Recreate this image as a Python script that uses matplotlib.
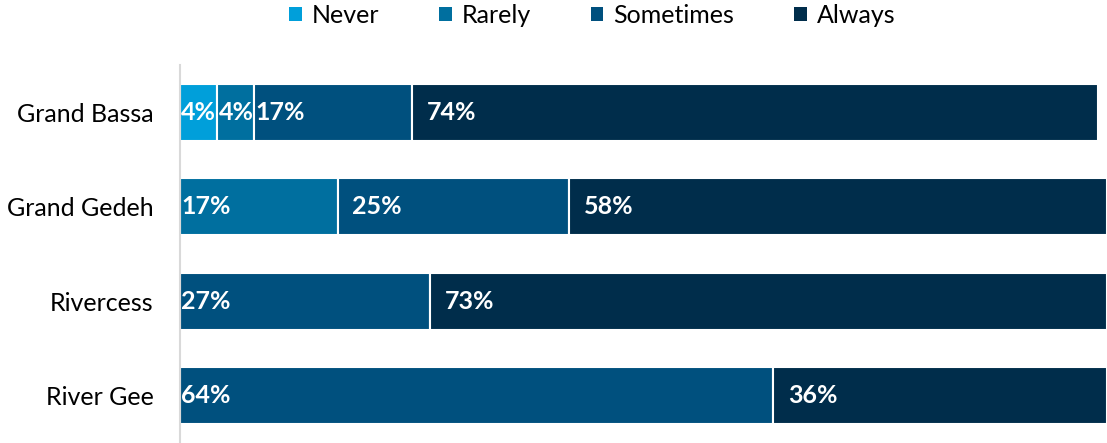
import matplotlib.pyplot as plt
from matplotlib.patches import Patch

# データ
counties = ["Grand Bassa", "Grand Gedeh", "Rivercess", "River Gee"]
series_names = ["Never", "Rarely", "Sometimes", "Always"]
never = [4, 0, 0, 0]
rarely = [4, 17, 0, 0]
sometimes = [17, 25, 27, 64]
always = [74, 58, 73, 36]
colors = ["#009FDA", "#006F9F", "#00507E", "#002D4B"]

plt.rcParams['font.family'] = ['Lato', 'DejaVu Sans']

fig = plt.figure(figsize=(11.07, 4.43), dpi=100)
ax = fig.add_axes([180 / 1107, 0, 1 - 180 / 1107, 378 / 443])

values = [never, rarely, sometimes, always]
left = [0] * len(counties)
first = [True] * len(counties)
for name, vals, col in zip(series_names, values, colors):
    ax.barh(range(len(counties)), vals, left=left, height=0.6, color=col,
            edgecolor="white", linewidth=1.5, label=name)
    for i, v in enumerate(vals):
        if v == 0:
            continue
        # ラベル位置（左寄せ）
        pad = 0.15 if (first[i] or v < 20) else 1.6
        ax.text(left[i] + pad, i, f"{v}%", color="white", fontsize=18,
                fontweight="bold", va="center", ha="left")
        first[i] = False
    left = [l + v for l, v in zip(left, vals)]

ax.set_xlim(0, 100)
ax.set_ylim(3.5, -0.5)
ax.set_yticks(range(len(counties)))
ax.set_yticklabels(counties, fontsize=18)
ax.tick_params(axis="y", length=0, pad=19)
ax.set_xticks([])
for s in ["top", "right", "bottom"]:
    ax.spines[s].set_visible(False)
ax.spines["left"].set_color("#D9D9D9")
ax.spines["left"].set_linewidth(1.5)

handles = [Patch(facecolor=c, edgecolor="none") for c in colors]
fig.legend(handles, series_names, loc="center", bbox_to_anchor=(0.535, 0.965),
           ncol=4, frameon=False, fontsize=18, handlelength=0.5,
           handleheight=0.5, handletextpad=0.4, columnspacing=2.4)

plt.savefig("out.png", dpi=100)
